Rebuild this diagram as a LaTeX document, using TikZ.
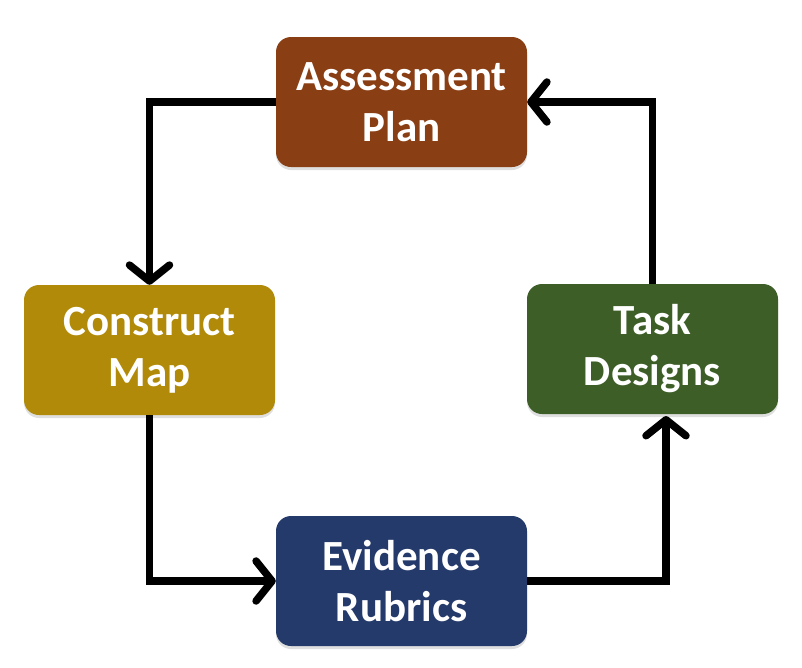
\documentclass[tikz,border=0pt]{standalone}
\usepackage{fontspec}
\setmainfont{Carlito}
\usetikzlibrary{arrows.meta,shadows}

\definecolor{planbrown}{HTML}{8A3E14}
\definecolor{mapgold}{HTML}{B08A08}
\definecolor{taskgreen}{HTML}{3E5E28}
\definecolor{rubricblue}{HTML}{243A6A}

\tikzset{
  stage/.style={rounded corners=15pt, minimum width=251pt, minimum height=130pt,
    text=white, align=center, font=\fontsize{43}{51}\selectfont\bfseries,
    drop shadow={opacity=0.25, shadow xshift=0pt, shadow yshift=-3pt}},
  flow/.style={line width=7.5pt, -{Straight Barb[round,length=16pt,width=40pt]}}
}

\begin{document}
\begin{tikzpicture}[x=1pt,y=-1pt]
\useasboundingbox (0,0) rectangle (802,667);

\node[stage, fill=planbrown]  (plan)    at (401.5,102) {Assessment\\Plan};
\node[stage, fill=mapgold]    (map)     at (149.5,350) {Construct\\Map};
\node[stage, fill=taskgreen]  (task)    at (652.5,349) {Task\\Designs};
\node[stage, fill=rubricblue] (rubrics) at (401.5,581) {Evidence\\Rubrics};

\coordinate (taskin) at (666,416);

\draw[flow] (plan.west) -| (map.north);
\draw[flow] (map.south) |- (rubrics.west);
\draw[flow] (rubrics.east) -| (taskin);
\draw[flow] (task.north) |- (plan.east);

\end{tikzpicture}
\end{document}
